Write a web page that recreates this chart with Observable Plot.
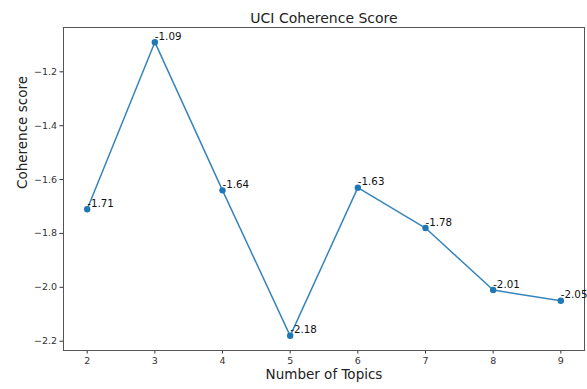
<!DOCTYPE html>
<html>
<head>
<meta charset="utf-8">
<script src="https://cdn.jsdelivr.net/npm/d3@7"></script>
<script src="https://cdn.jsdelivr.net/npm/@observablehq/plot@0.6"></script>
<style>
  body { margin: 0; background: #fff; }
  svg { font-family: "DejaVu Sans", sans-serif; }
</style>
</head>
<body>
<div id="chart"></div>
<script>
const topics = [2, 3, 4, 5, 6, 7, 8, 9];
const scores = [-1.71, -1.09, -1.64, -2.18, -1.63, -1.78, -2.01, -2.05];
const xTicks = [2, 3, 4, 5, 6, 7, 8, 9];
const yTicks = [-2.2, -2.0, -1.8, -1.6, -1.4, -1.2];
const title = "UCI Coherence Score";
const xLabel = "Number of Topics";
const yLabel = "Coherence score";

const data = topics.map((t, i) => ({t, s: scores[i], label: scores[i].toFixed(2)}));
const blue = "#1f77b4";

const chart = Plot.plot({
  width: 587,
  height: 389,
  marginTop: 27,
  marginBottom: 39,
  marginLeft: 63,
  marginRight: 3,
  style: {fontFamily: "DejaVu Sans, sans-serif", background: "#fff"},
  x: {domain: [1.65, 9.35]},
  y: {domain: [-2.2345, -1.0355]},
  marks: [
    Plot.axisX({ticks: xTicks, tickFormat: d => String(d), tickSize: 3.5, tickPadding: 3, fontSize: 9.5, color: "#333", stroke: "#333", label: null}),
    Plot.axisY({ticks: yTicks, tickFormat: d => d.toFixed(1).replace("-", "\u2212"), tickSize: 3.5, tickPadding: 3, fontSize: 9.5, color: "#333", stroke: "#333", label: null}),
    Plot.frame({stroke: "#555", strokeWidth: 1}),
    Plot.line(data, {x: "t", y: "s", stroke: blue, strokeWidth: 1.5, strokeOpacity: 0.9}),
    Plot.dot(data, {x: "t", y: "s", fill: blue, r: 3.2}),
    Plot.text(data, {x: "t", y: "s", text: "label", textAnchor: "start", lineAnchor: "bottom", dy: -2.5, dx: 0, fontSize: 10.3, fill: "#111"}),
    Plot.text([title], {frameAnchor: "top", dy: -14, fontSize: 14, fill: "#222"}),
    Plot.text([xLabel], {frameAnchor: "bottom", dy: 28, fontSize: 13.5, fill: "#222"}),
    Plot.text([yLabel], {frameAnchor: "left", dx: -41, rotate: -90, fontSize: 13.5, fill: "#222"})
  ]
});
document.getElementById("chart").appendChild(chart);
</script>
</body>
</html>
